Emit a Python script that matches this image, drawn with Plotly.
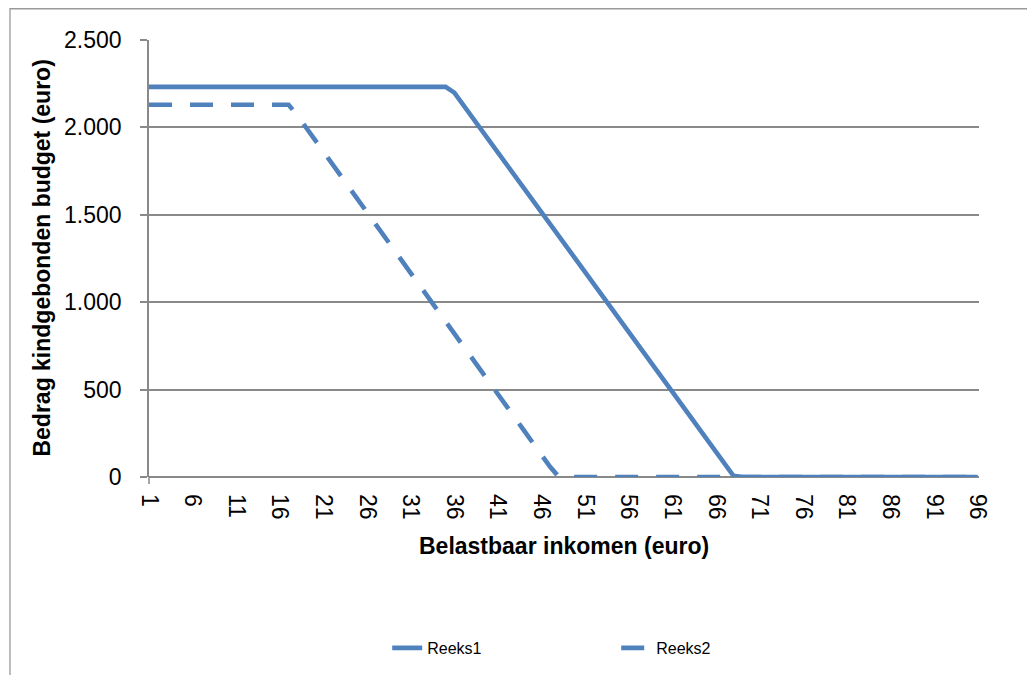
import plotly.graph_objects as go

categories = list(range(1, 97))
tick_labels = [str(v) for v in range(1, 97, 5)]

reeks1 = [2232] * 35 + [
    2199, 2131, 2062, 1994, 1925, 1857, 1788, 1720, 1651, 1583,
    1514, 1446, 1377, 1309, 1240, 1172, 1103, 1035, 966, 898,
    829, 761, 692, 624, 555, 487, 418, 350, 281, 213,
    144, 76, 7,
] + [0] * 28

reeks2 = [2130] * 17 + [
    2069, 2000, 1931, 1862, 1792, 1723, 1653, 1584, 1514, 1445,
    1376, 1306, 1237, 1167, 1098, 1029, 959, 890, 820, 751,
    682, 612, 543, 473, 404, 335, 265, 196, 126, 57,
] + [0] * 49

series_names = ["Reeks1", "Reeks2"]
y_title = "Bedrag kindgebonden budget (euro)"
x_title = "Belastbaar inkomen (euro)"

BLUE = "#4F81BD"
GRID = "#898989"
FONT = "Liberation Sans"

fig = go.Figure()
fig.add_trace(go.Scatter(x=categories, y=reeks1, mode="lines", name=series_names[0],
                         line=dict(color=BLUE, width=4.6)))
fig.add_trace(go.Scatter(x=categories, y=reeks2, mode="lines", name=series_names[1],
                         line=dict(color=BLUE, width=4.6, dash="23px,18px")))

fig.update_layout(
    width=1027, height=667,
    margin=dict(l=141, r=56, t=32, b=197),
    paper_bgcolor="white", plot_bgcolor="white",
    separators=",.",
    font=dict(family=FONT, color="#000000"),
    showlegend=True,
    legend=dict(orientation="h", x=0.287, xanchor="left", y=-0.388, yanchor="middle",
                font=dict(size=16, family=FONT), entrywidth=184, entrywidthmode="pixels",
                bgcolor="rgba(0,0,0,0)"),
    xaxis=dict(range=[1, 96.15], tickmode="array",
               tickvals=[int(t) for t in tick_labels], ticktext=tick_labels,
               tickangle=90, tickfont=dict(size=23, family=FONT),
               showgrid=False, zeroline=False, showline=False,
               ticks="", ticklabelstandoff=16),
    yaxis=dict(range=[0, 2500], dtick=500, tick0=0, separatethousands=True,
               tickfont=dict(size=23, family=FONT),
               showgrid=True, gridcolor=GRID, gridwidth=1.5,
               zeroline=True, zerolinecolor=GRID, zerolinewidth=1.5,
               showline=True, linecolor=GRID, linewidth=1.5,
               ticks="outside", ticklen=7, tickcolor=GRID, tickwidth=1.5,
               ticklabelstandoff=14),
)

fig.add_annotation(text="<b>" + x_title + "</b>", xref="paper", yref="paper",
                   x=0.5, y=-0.1575, xanchor="center", yanchor="middle",
                   showarrow=False, font=dict(size=23, family=FONT))
fig.add_annotation(text="<b>" + y_title + "</b>", xref="paper", yref="paper",
                   x=-0.129, y=0.502, xanchor="center", yanchor="middle", textangle=-90,
                   showarrow=False, font=dict(size=23, family=FONT))

# outer chart border (cropped at right and bottom)
fig.add_shape(type="rect", xref="paper", yref="paper",
              x0=-0.1675, x1=1.3, y0=-0.6, y1=1.0715,
              line=dict(color="#9a9a9a", width=1.3), layer="below")
# small downward extension of the value axis below zero
fig.add_shape(type="line", xref="paper", yref="paper",
              x0=0, x1=0, y0=0, y1=-0.016, line=dict(color=GRID, width=1.5))

fig.write_html("out.html")
